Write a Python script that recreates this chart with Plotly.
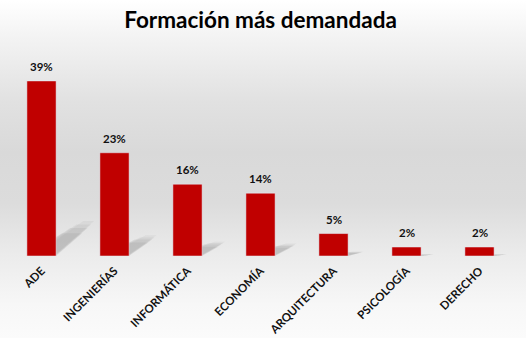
import base64
import plotly.graph_objects as go

categories = ["ADE", "INGENIERÍAS", "INFORMÁTICA", "ECONOMÍA", "ARQUITECTURA", "PSICOLOGÍA", "DERECHO"]
values = [0.39, 0.23, 0.16, 0.14, 0.05, 0.02, 0.02]
labels = ["39%", "23%", "16%", "14%", "5%", "2%", "2%"]

W, H = 526, 341
ML, MR, MT, MB = 5, 10, 54, 83
PW, PH = W - ML - MR, H - MT - MB
FONT = "Lato, 'Open Sans', sans-serif"

fig = go.Figure()
fig.add_trace(go.Bar(
    x=categories, y=values, marker_color="#C00000", width=0.4,
    hoverinfo="skip", showlegend=False,
))

for cat, v, t in zip(categories, values, labels):
    fig.add_annotation(x=cat, y=v, text=t, showarrow=False, yanchor="bottom", yshift=6,
                       font=dict(family=FONT, size=11.5, color="#111111", weight="bold"))

# soft cast shadows behind bars
shapes = []
for i, v in enumerate(values):
    dx = 0.2 + v * 0.9
    dy = v * 0.2
    for grow, inset, op in [(1.0, 0.10, 0.05), (0.9, 0.06, 0.06), (0.8, 0.03, 0.07), (0.65, 0.0, 0.07)]:
        x0 = i - 0.2 + inset
        x1 = i + 0.2 - inset * 0.3
        path = (f"M {x0},0 L {x1},0 L {x1 + dx*grow},{dy*grow} "
                f"L {x0 + dx*grow + 0.12},{dy*grow} Z")
        shapes.append(dict(type="path", path=path, xref="x", yref="y",
                           fillcolor=f"rgba(50,50,50,{op})", line=dict(width=0), layer="below"))

svg = f"""<svg xmlns='http://www.w3.org/2000/svg' width='{W}' height='{H}'>
<defs><linearGradient id='g' x1='0' y1='0' x2='0' y2='1'>
<stop offset='0' stop-color='#ffffff'/>
<stop offset='0.12' stop-color='#f2f2f2'/>
<stop offset='0.30' stop-color='#e1e1e1'/>
<stop offset='0.45' stop-color='#d9d9d9'/>
<stop offset='0.60' stop-color='#dcdcdc'/>
<stop offset='0.75' stop-color='#ebebeb'/>
<stop offset='0.90' stop-color='#f7f7f7'/>
<stop offset='1' stop-color='#fbfbfb'/>
</linearGradient></defs>
<rect width='{W}' height='{H}' fill='url(#g)'/></svg>"""
src = "data:image/svg+xml;base64," + base64.b64encode(svg.encode()).decode()

fig.update_layout(
    width=W, height=H,
    margin=dict(l=ML, r=MR, t=MT, b=MB),
    paper_bgcolor="#ffffff", plot_bgcolor="rgba(0,0,0,0)",
    title=dict(text="Formación más demandada", x=0.5, xanchor="center", xref="paper",
               y=1 - 20 / H, yanchor="middle",
               font=dict(family=FONT, size=22.5, color="#000000", weight="bold")),
    shapes=shapes,
    images=[dict(source=src, xref="paper", yref="paper", x=-ML / PW, y=1 + MT / PH,
                 sizex=W / PW, sizey=H / PH, xanchor="left", yanchor="top",
                 sizing="stretch", layer="below")],
    xaxis=dict(tickangle=-45, showgrid=False, zeroline=False, showline=False, ticks="",
               ticklabelstandoff=5,
               tickfont=dict(family=FONT, size=11.5, color="#111111", weight="bold")),
    yaxis=dict(range=[0, 0.45], visible=False, showgrid=False, zeroline=False),
)

fig.write_html("out.html")
